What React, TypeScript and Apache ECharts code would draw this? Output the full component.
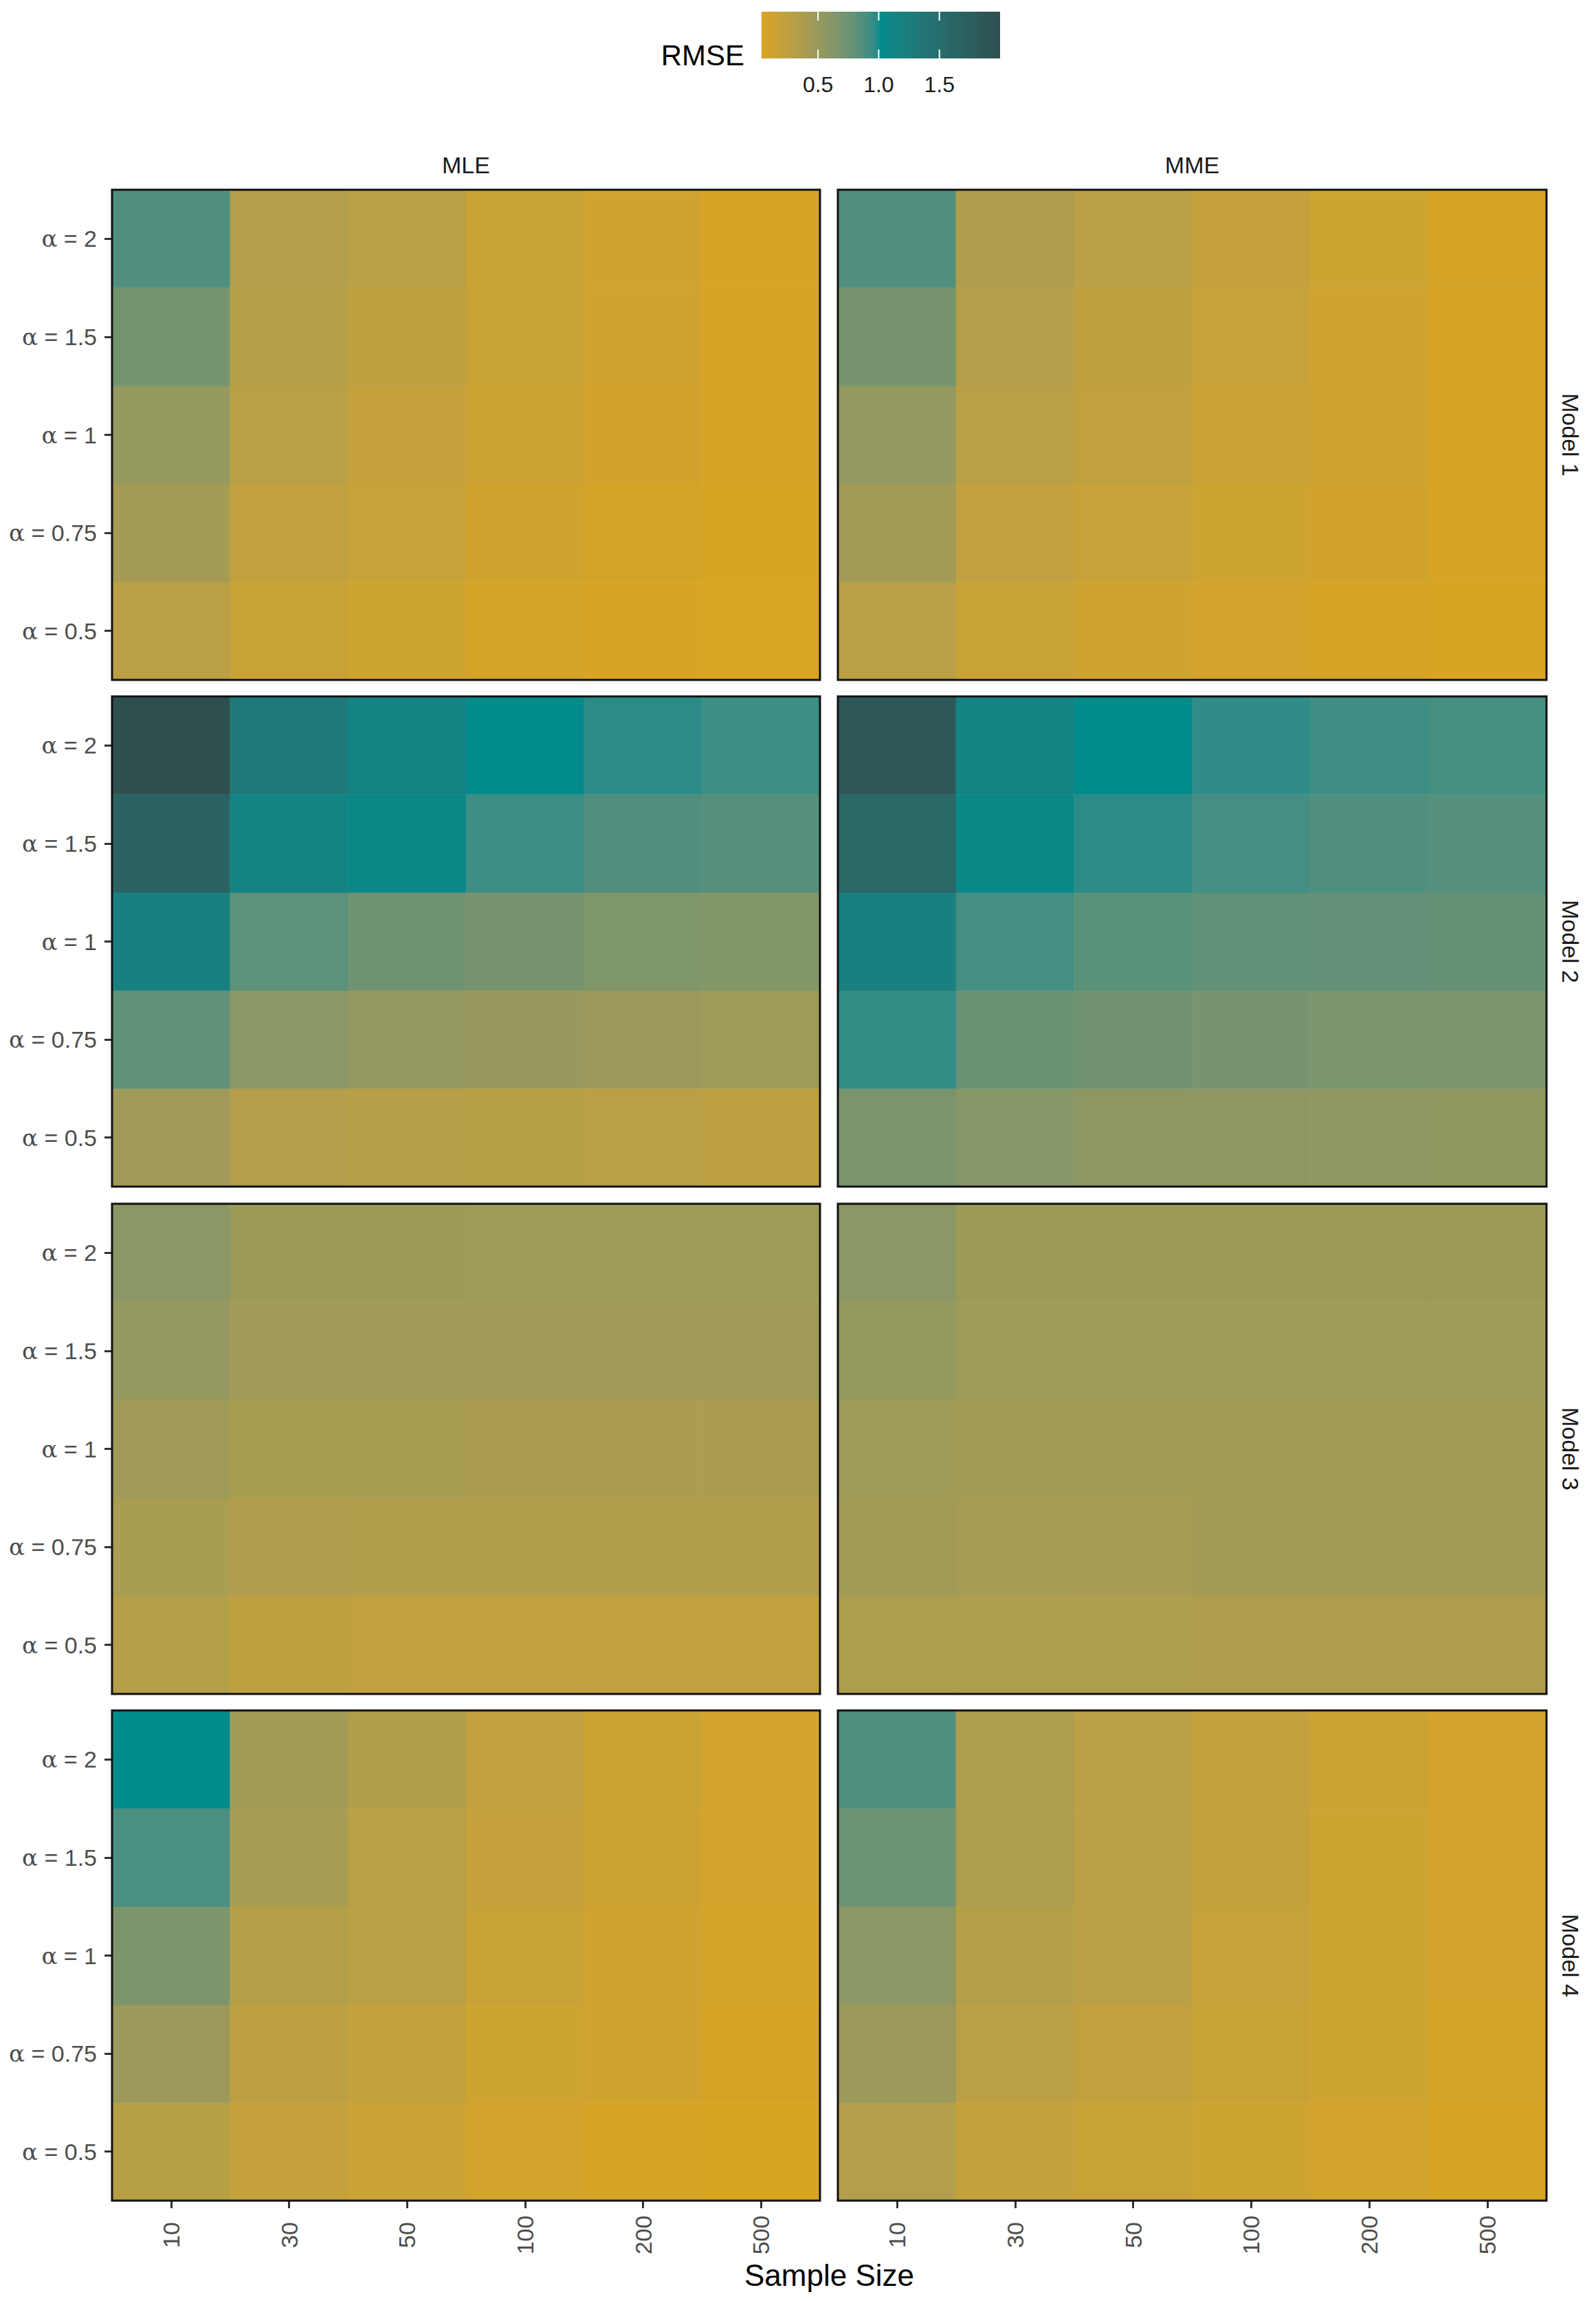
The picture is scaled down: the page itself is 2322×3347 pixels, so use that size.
import React, { useEffect, useRef } from "react";
import * as echarts from "echarts";

const sampleSizes = ["10", "30", "50", "100", "200", "500"];
const alphaLevels = ["0.5", "0.75", "1", "1.5", "2"];
const methods = ["MLE", "MME"];
const models = ["Model 1", "Model 2", "Model 3", "Model 4"];
const legendTicks = [0.5, 1.0, 1.5];
const paletteColors = ["#DAA520", "#008B8B", "#2F4F4F"];

// rows: alpha = 0.5, 0.75, 1, 1.5, 2 ; columns: sample size 10..500
const model1MLE = [
  [0.27, 0.17, 0.13, 0.08, 0.06, 0.035],
  [0.42, 0.22, 0.18, 0.11, 0.08, 0.05],
  [0.52, 0.27, 0.2, 0.14, 0.1, 0.06],
  [0.71, 0.3, 0.24, 0.17, 0.11, 0.06],
  [0.87, 0.32, 0.27, 0.17, 0.11, 0.06],
];
const model1MME = [
  [0.28, 0.17, 0.12, 0.09, 0.07, 0.05],
  [0.43, 0.23, 0.18, 0.13, 0.1, 0.06],
  [0.53, 0.28, 0.22, 0.16, 0.12, 0.07],
  [0.7, 0.32, 0.24, 0.18, 0.11, 0.07],
  [0.87, 0.35, 0.27, 0.2, 0.13, 0.07],
];
const model2MLE = [
  [0.45, 0.33, 0.3, 0.29, 0.27, 0.25],
  [0.8, 0.58, 0.53, 0.5, 0.48, 0.46],
  [1.2, 0.82, 0.73, 0.69, 0.65, 0.63],
  [1.65, 1.13, 1.07, 0.93, 0.87, 0.85],
  [2.0, 1.3, 1.15, 1.02, 0.97, 0.93],
];
const model2MME = [
  [0.68, 0.61, 0.575, 0.565, 0.555, 0.55],
  [0.955, 0.76, 0.72, 0.69, 0.68, 0.67],
  [1.22, 0.91, 0.83, 0.8, 0.79, 0.78],
  [1.6, 1.08, 0.97, 0.91, 0.87, 0.855],
  [1.85, 1.15, 1.02, 0.96, 0.925, 0.905],
];
const model3MLE = [
  [0.31, 0.24, 0.23, 0.23, 0.23, 0.22],
  [0.39, 0.35, 0.34, 0.34, 0.34, 0.34],
  [0.45, 0.39, 0.39, 0.38, 0.38, 0.38],
  [0.53, 0.45, 0.45, 0.45, 0.45, 0.45],
  [0.58, 0.47, 0.47, 0.46, 0.46, 0.46],
];
const model3MME = [
  [0.36, 0.36, 0.36, 0.35, 0.35, 0.35],
  [0.44, 0.41, 0.4, 0.42, 0.42, 0.42],
  [0.46, 0.44, 0.44, 0.44, 0.44, 0.44],
  [0.52, 0.46, 0.46, 0.46, 0.46, 0.46],
  [0.58, 0.47, 0.47, 0.47, 0.47, 0.47],
];
const model4MLE = [
  [0.29, 0.2, 0.16, 0.09, 0.07, 0.04],
  [0.48, 0.26, 0.21, 0.13, 0.11, 0.07],
  [0.67, 0.31, 0.27, 0.17, 0.12, 0.08],
  [0.89, 0.4, 0.28, 0.2, 0.14, 0.09],
  [1.02, 0.43, 0.34, 0.23, 0.15, 0.09],
];
const model4MME = [
  [0.33, 0.21, 0.17, 0.13, 0.09, 0.06],
  [0.48, 0.27, 0.22, 0.17, 0.13, 0.08],
  [0.58, 0.31, 0.27, 0.19, 0.13, 0.09],
  [0.75, 0.36, 0.27, 0.21, 0.13, 0.09],
  [0.88, 0.36, 0.27, 0.21, 0.15, 0.09],
];

const panelData = [
  [model1MLE, model1MME],
  [model2MLE, model2MME],
  [model3MLE, model3MME],
  [model4MLE, model4MME],
];

// ---- Lab colour interpolation (like ggplot's gradientn) ----
function hexToRgb(h: string) {
  const n = parseInt(h.slice(1), 16);
  return [(n >> 16) & 255, (n >> 8) & 255, n & 255];
}
function toLin(c: number) {
  c /= 255;
  return c <= 0.04045 ? c / 12.92 : Math.pow((c + 0.055) / 1.055, 2.4);
}
function fromLin(c: number) {
  const v = c <= 0.0031308 ? 12.92 * c : 1.055 * Math.pow(Math.max(c, 0), 1 / 2.4) - 0.055;
  return Math.max(0, Math.min(255, Math.round(v * 255)));
}
const WX = 0.95047, WY = 1, WZ = 1.08883;
function f(t: number) {
  return t > 0.008856 ? Math.cbrt(t) : 7.787 * t + 16 / 116;
}
function finv(t: number) {
  return t > 0.2069 ? t * t * t : (t - 16 / 116) / 7.787;
}
function rgbToLab(rgb: number[]) {
  const [r, g, b] = rgb.map(toLin);
  const x = 0.4124 * r + 0.3576 * g + 0.1805 * b;
  const y = 0.2126 * r + 0.7152 * g + 0.0722 * b;
  const z = 0.0193 * r + 0.1192 * g + 0.9505 * b;
  const fx = f(x / WX), fy = f(y / WY), fz = f(z / WZ);
  return [116 * fy - 16, 500 * (fx - fy), 200 * (fy - fz)];
}
function labToHex(lab: number[]) {
  const fy = (lab[0] + 16) / 116;
  const fx = fy + lab[1] / 500;
  const fz = fy - lab[2] / 200;
  const x = WX * finv(fx), y = WY * finv(fy), z = WZ * finv(fz);
  const r = 3.2406 * x - 1.5372 * y - 0.4986 * z;
  const g = -0.9689 * x + 1.8758 * y + 0.0415 * z;
  const b = 0.0557 * x - 0.204 * y + 1.057 * z;
  const hx = (v: number) => fromLin(v).toString(16).padStart(2, "0");
  return "#" + hx(r) + hx(g) + hx(b);
}
function sampleScale(colors: string[], n: number) {
  const labs = colors.map((c) => rgbToLab(hexToRgb(c)));
  const out: string[] = [];
  for (let i = 0; i < n; i++) {
    const t = i / (n - 1);
    const seg = Math.min(labs.length - 2, Math.floor(t * (labs.length - 1)));
    const u = t * (labs.length - 1) - seg;
    const a = labs[seg], b = labs[seg + 1];
    out.push(labToHex([0, 1, 2].map((k) => a[k] + (b[k] - a[k]) * u)));
  }
  return out;
}

const FONT = "'Liberation Sans', Arial, Helvetica, sans-serif";

export default function App() {
  const ref = useRef<HTMLDivElement>(null);
  useEffect(() => {
    if (!ref.current) return;
    const chart = echarts.init(ref.current, null, { renderer: "svg" });

    const scaleColors = sampleScale(paletteColors, 81);
    const allVals = panelData.flat(3) as number[];
    const vMin = Math.min(...allVals);
    const vMax = Math.max(...allVals);

    const colLeft = [163, 1219];
    const colWidth = [1030, 1031];
    const rowTop = [276, 1013, 1751, 2488];
    const rowH = 713;

    const grids: any[] = [];
    const xAxes: any[] = [];
    const yAxes: any[] = [];
    const series: any[] = [];
    const graphics: any[] = [];

    for (let r = 0; r < 4; r++) {
      for (let c = 0; c < 2; c++) {
        const idx = r * 2 + c;
        grids.push({
          left: colLeft[c],
          top: rowTop[r],
          width: colWidth[c],
          height: rowH,
          containLabel: false,
        });
        const isBottom = r === 3;
        const isLeft = c === 0;
        xAxes.push({
          type: "category",
          gridIndex: idx,
          data: sampleSizes,
          axisLine: { show: false },
          splitLine: { show: false },
          axisTick: {
            show: isBottom,
            alignWithLabel: true,
            length: 11,
            lineStyle: { color: "#333333", width: 3 },
          },
          axisLabel: {
            show: isBottom,
            rotate: 90,
            align: "center",
            verticalAlign: "middle",
            margin: 50,
            fontSize: 34,
            color: "#4d4d4d",
            fontFamily: FONT,
          },
        });
        yAxes.push({
          type: "category",
          gridIndex: idx,
          data: alphaLevels,
          axisLine: { show: false },
          splitLine: { show: false },
          axisTick: {
            show: isLeft,
            alignWithLabel: true,
            length: 11,
            lineStyle: { color: "#333333", width: 3 },
          },
          axisLabel: {
            show: isLeft,
            margin: 22,
            fontSize: 34,
            color: "#4d4d4d",
            fontFamily: FONT,
            formatter: (v: string) => "{a|α} = " + v,
            rich: {
              a: {
                fontFamily: "'DejaVu Serif', 'Liberation Serif', serif",
                fontSize: 34,
                color: "#4d4d4d",
              },
            },
          },
        });
        const mat = panelData[r][c];
        const data: number[][] = [];
        mat.forEach((row, yi) =>
          row.forEach((v, xi) => data.push([xi, yi, v]))
        );
        series.push({
          type: "heatmap",
          name: models[r] + " " + methods[c],
          xAxisIndex: idx,
          yAxisIndex: idx,
          data,
          emphasis: { disabled: true },
          itemStyle: { borderWidth: 0 },
        });
        graphics.push({
          type: "rect",
          z: 100,
          shape: { x: colLeft[c], y: rowTop[r], width: colWidth[c], height: rowH },
          style: { fill: "none", stroke: "#111111", lineWidth: 3 },
          silent: true,
        });
      }
      graphics.push({
        type: "text",
        z: 100,
        x: 2285,
        y: rowTop[r] + rowH / 2,
        rotation: -Math.PI / 2,
        style: {
          text: models[r],
          fontSize: 34,
          fontFamily: FONT,
          fill: "#1a1a1a",
          align: "center",
          verticalAlign: "middle",
        },
      });
    }

    methods.forEach((m, c) => {
      graphics.push({
        type: "text",
        z: 100,
        x: colLeft[c] + colWidth[c] / 2,
        y: 240,
        style: {
          text: m,
          fontSize: 34,
          fontFamily: FONT,
          fill: "#1a1a1a",
          align: "center",
          verticalAlign: "middle",
        },
      });
    });

    // axis title
    graphics.push({
      type: "text",
      z: 100,
      x: (colLeft[0] + colLeft[1] + colWidth[1]) / 2,
      y: 3309,
      style: {
        text: "Sample Size",
        fontSize: 44,
        fontFamily: FONT,
        fill: "#000000",
        align: "center",
        verticalAlign: "middle",
      },
    });

    // colour bar legend
    const barX = 1108, barY = 17, barW = 347, barH = 68;
    graphics.push({
      type: "rect",
      z: 100,
      shape: { x: barX, y: barY, width: barW, height: barH },
      style: {
        fill: new echarts.graphic.LinearGradient(
          0,
          0,
          1,
          0,
          scaleColors.map((col, i) => ({ offset: i / (scaleColors.length - 1), color: col }))
        ),
      },
    });
    legendTicks.forEach((t) => {
      const tx = barX + ((t - vMin) / (vMax - vMin)) * barW;
      graphics.push({
        type: "line",
        z: 101,
        shape: { x1: tx, y1: barY, x2: tx, y2: barY + 13 },
        style: { stroke: "#ffffff", lineWidth: 2 },
      });
      graphics.push({
        type: "line",
        z: 101,
        shape: { x1: tx, y1: barY + barH - 13, x2: tx, y2: barY + barH },
        style: { stroke: "#ffffff", lineWidth: 2 },
      });
      graphics.push({
        type: "text",
        z: 101,
        x: tx,
        y: 123,
        style: {
          text: t.toFixed(1),
          fontSize: 32,
          fontFamily: FONT,
          fill: "#1a1a1a",
          align: "center",
          verticalAlign: "middle",
        },
      });
    });
    graphics.push({
      type: "text",
      z: 101,
      x: 1083,
      y: 80,
      style: {
        text: "RMSE",
        fontSize: 42,
        fontFamily: FONT,
        fill: "#000000",
        align: "right",
        verticalAlign: "middle",
      },
    });

    chart.setOption({
      animation: false,
      backgroundColor: "#ffffff",
      textStyle: { fontFamily: FONT },
      grid: grids,
      xAxis: xAxes,
      yAxis: yAxes,
      visualMap: {
        type: "continuous",
        show: false,
        min: vMin,
        max: vMax,
        calculable: false,
        seriesIndex: series.map((_, i) => i),
        inRange: { color: scaleColors },
      },
      series,
      graphic: graphics,
    });
    return () => chart.dispose();
  }, []);
  return (
    <div
      ref={ref}
      style={{ position: "absolute", left: 0, top: 0, width: 2322, height: 3347 }}
    />
  );
}
